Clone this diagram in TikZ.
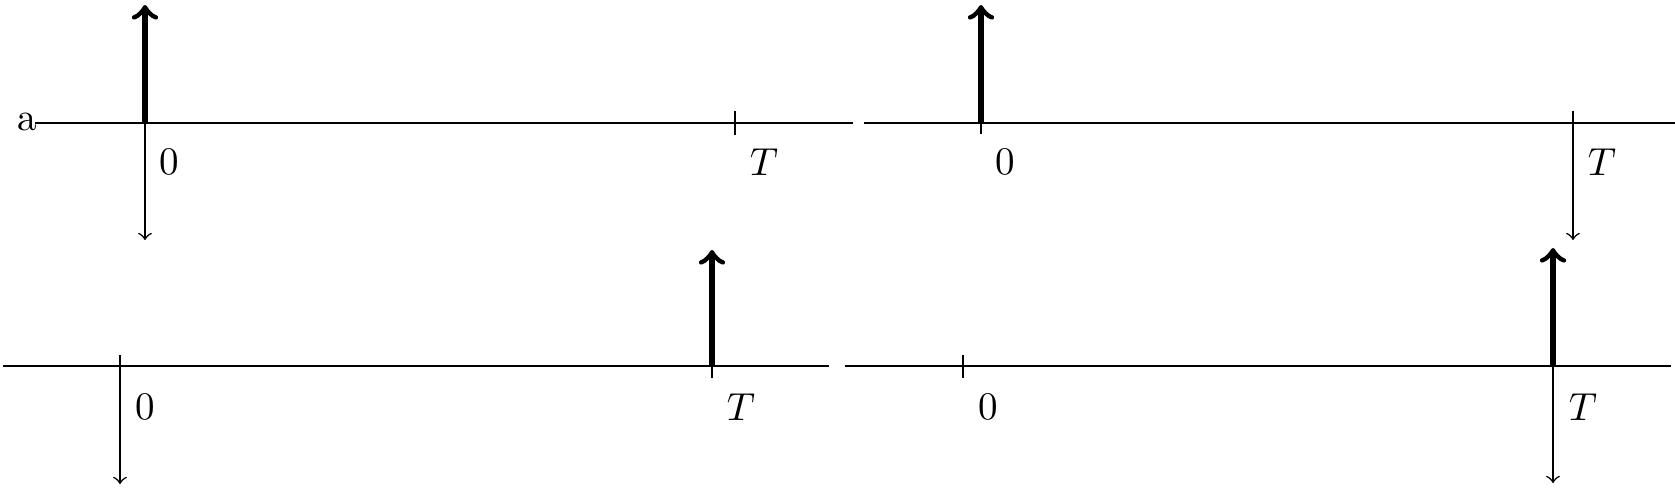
\documentclass[tikz,border=0pt]{standalone}
\begin{document}
\begin{tikzpicture}[x=0.009cm,y=-0.009cm,
  axis/.style={line width=0.4pt},
  axistop/.style={line width=0.6pt},
  impulse/.style={line width=1.4pt,->},
  downarr/.style={line width=0.4pt,->},
  tickmark/.style={line width=0.5pt},
  lbl/.style={inner sep=0pt}]
\useasboundingbox (0,0) rectangle (1675,487);
% ---------- top left ----------
\coordinate (tlA) at (35,123);
\coordinate (tlB) at (853,123);
\coordinate (tl0) at (145,123);
\coordinate (tlT) at (735,123);
\coordinate (tl0up) at (145,5);
\coordinate (tl0dn) at (145,240);
\coordinate (tlTa) at (735,111);
\coordinate (tlTb) at (735,135);
\node[lbl,anchor=east] (a) at (38,122) {a};
\draw[axistop] (tlA) -- (tlB);
\draw[impulse] (tl0) -- (tl0up);
\draw[downarr] (tl0) -- (tl0dn);
\draw[tickmark] (tlTa) -- (tlTb);
\node[lbl] (tl0l) at (169,162) {$0$};
\node[lbl] (tlTl) at (764,162) {$T$};
% ---------- top right ----------
\coordinate (trA) at (864,123);
\coordinate (trB) at (1675,123);
\coordinate (tr0) at (981,123);
\coordinate (trT) at (1573,123);
\coordinate (tr0up) at (981,5);
\coordinate (tr0a) at (981,111);
\coordinate (tr0b) at (981,134);
\coordinate (trTa) at (1573,111);
\coordinate (trTdn) at (1573,240);
\draw[axistop] (trA) -- (trB);
\draw[tickmark] (tr0a) -- (tr0b);
\draw[impulse] (tr0) -- (tr0up);
\draw[downarr] (trTa) -- (trTdn);
\node[lbl] (tr0l) at (1005,162) {$0$};
\node[lbl] (trTl) at (1602,162) {$T$};
% ---------- bottom left ----------
\coordinate (blA) at (3,366);
\coordinate (blB) at (829,366);
\coordinate (bl0) at (120,366);
\coordinate (blT) at (712,366);
\coordinate (bl0a) at (120,355);
\coordinate (bl0dn) at (120,484);
\coordinate (blTa) at (712,355);
\coordinate (blTb) at (712,378);
\coordinate (blTup) at (712,250);
\draw[axis] (blA) -- (blB);
\draw[downarr] (bl0a) -- (bl0dn);
\draw[tickmark] (blTa) -- (blTb);
\draw[impulse] (blT) -- (blTup);
\node[lbl] (bl0l) at (145,407) {$0$};
\node[lbl] (blTl) at (741,407) {$T$};
% ---------- bottom right ----------
\coordinate (brA) at (845,366);
\coordinate (brB) at (1671,366);
\coordinate (br0) at (963,366);
\coordinate (brT) at (1553,366);
\coordinate (br0a) at (963,355);
\coordinate (br0b) at (963,378);
\coordinate (brTup) at (1553,248);
\coordinate (brTdn) at (1553,483);
\draw[axis] (brA) -- (brB);
\draw[tickmark] (br0a) -- (br0b);
\draw[impulse] (brT) -- (brTup);
\draw[downarr] (brT) -- (brTdn);
\node[lbl] (br0l) at (988,407) {$0$};
\node[lbl] (brTl) at (1583,407) {$T$};
\end{tikzpicture}
\end{document}
